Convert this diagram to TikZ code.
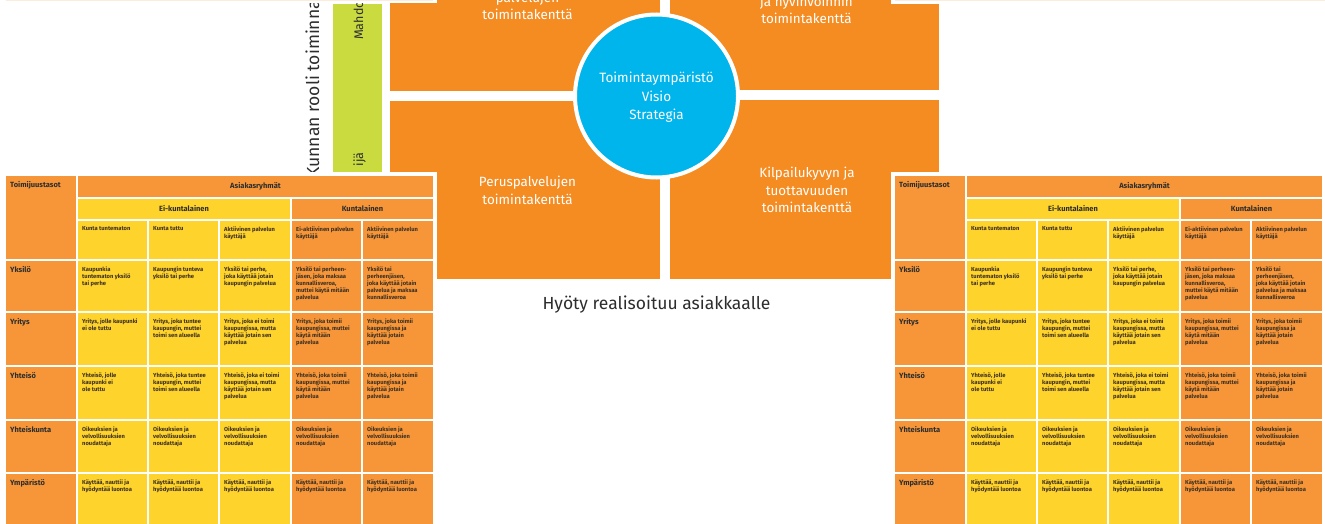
\documentclass[tikz,border=0pt]{standalone}
\usepackage{fontspec}
\setmainfont{Fira Sans}

\definecolor{quadorange}{RGB}{244,140,34}
\definecolor{taborange}{RGB}{246,150,56}
\definecolor{tabyellow}{RGB}{254,211,43}
\definecolor{barlime}{RGB}{202,219,64}
\definecolor{hubblue}{RGB}{0,180,236}
\definecolor{inktext}{RGB}{62,48,34}
\definecolor{greytext}{RGB}{45,45,45}

\tikzset{
  celltext/.style={inner sep=0pt, anchor=north west, align=left, text=inktext,
    font=\bfseries\fontsize{5.8}{7}\selectfont},
  rowlabel/.style={inner sep=0pt, anchor=north west, text=greytext,
    font=\bfseries\fontsize{7.5}{9}\selectfont},
  headtext/.style={inner sep=0pt, text=greytext,
    font=\bfseries\fontsize{7.5}{9}\selectfont},
  fieldtext/.style={text=white, align=center, inner sep=0pt,
    font=\fontsize{13.4}{17.7}\selectfont},
  hubtext/.style={text=white, align=center, inner sep=0pt,
    font=\fontsize{13.5}{18.5}\selectfont},
  sidetext/.style={text=greytext, rotate=90, inner sep=0pt},
}

% table cell: x1 x2 y1 y2 fill style name text (text set at the top left)
\newcommand{\tcell}[8]{%
  \fill[#5] (#1,#3) rectangle (#2,#4);
  \node[#6] (#7) at ({#1+4},{#3+5.5}) {#8};}
% header cell with centred text: x1 x2 y1 y2 fill name text
\newcommand{\hcell}[7]{%
  \fill[#5] (#1,#3) rectangle (#2,#4);
  \node[headtext] (#6) at ({(#1+#2)/2},{(#3+#4)/2}) {#7};}

% customer group table; #1 is the prefix for its node names
\newcommand{\clienttable}[1]{%
  \fill[white] (2,172) rectangle (437,530);
  \tcell{6}{76}{176}{259}{taborange}{rowlabel}{#1-corner}{Toimijuustasot}
  \hcell{78}{433}{176}{197}{taborange}{#1-groups}{Asiakasryhmät}
  \hcell{78}{290}{199}{219}{tabyellow}{#1-outside}{Ei-kuntalainen}
  \hcell{292}{433}{199}{219}{taborange}{#1-resident}{Kuntalainen}
  % column headings
  \tcell{78}{147}{221}{259}{tabyellow}{celltext}{#1-h1}{Kunta tuntematon}
  \tcell{149}{218}{221}{259}{tabyellow}{celltext}{#1-h2}{Kunta tuttu}
  \tcell{220}{290}{221}{259}{tabyellow}{celltext}{#1-h3}{Aktiivinen palvelun\\käyttäjä}
  \tcell{292}{361}{221}{259}{taborange}{celltext}{#1-h4}{Ei-aktiivinen palvelun\\käyttäjä}
  \tcell{363}{433}{221}{259}{taborange}{celltext}{#1-h5}{Aktiivinen palvelun\\käyttäjä}
  % Yksilö
  \tcell{6}{76}{261}{311}{taborange}{rowlabel}{#1-r1}{Yksilö}
  \tcell{78}{147}{261}{311}{tabyellow}{celltext}{#1-r1c1}{Kaupunkia\\tuntematon yksilö\\tai perhe}
  \tcell{149}{218}{261}{311}{tabyellow}{celltext}{#1-r1c2}{Kaupungin tunteva\\yksilö tai perhe}
  \tcell{220}{290}{261}{311}{tabyellow}{celltext}{#1-r1c3}{Yksilö tai perhe,\\joka käyttää jotain\\kaupungin palvelua}
  \tcell{292}{361}{261}{311}{taborange}{celltext}{#1-r1c4}{Yksilö tai perheen-\\jäsen, joka maksaa\\kunnallisveroa,\\muttei käytä mitään\\palvelua}
  \tcell{363}{433}{261}{311}{taborange}{celltext}{#1-r1c5}{Yksilö tai\\perheenjäsen,\\joka käyttää jotain\\palvelua ja maksaa\\kunnallisveroa}
  % Yritys
  \tcell{6}{76}{313}{365}{taborange}{rowlabel}{#1-r2}{Yritys}
  \tcell{78}{147}{313}{365}{tabyellow}{celltext}{#1-r2c1}{Yritys, jolle kaupunki\\ei ole tuttu}
  \tcell{149}{218}{313}{365}{tabyellow}{celltext}{#1-r2c2}{Yritys, joka tuntee\\kaupungin, muttei\\toimi sen alueella}
  \tcell{220}{290}{313}{365}{tabyellow}{celltext}{#1-r2c3}{Yritys, joka ei toimi\\kaupungissa, mutta\\käyttää jotain sen\\palvelua}
  \tcell{292}{361}{313}{365}{taborange}{celltext}{#1-r2c4}{Yritys, joka toimii\\kaupungissa, muttei\\käytä mitään\\palvelua}
  \tcell{363}{433}{313}{365}{taborange}{celltext}{#1-r2c5}{Yritys, joka toimii\\kaupungissa ja\\käyttää jotain\\palvelua}
  % Yhteisö
  \tcell{6}{76}{367}{419}{taborange}{rowlabel}{#1-r3}{Yhteisö}
  \tcell{78}{147}{367}{419}{tabyellow}{celltext}{#1-r3c1}{Yhteisö, jolle\\kaupunki ei\\ole tuttu}
  \tcell{149}{218}{367}{419}{tabyellow}{celltext}{#1-r3c2}{Yhteisö, joka tuntee\\kaupungin, muttei\\toimi sen alueella}
  \tcell{220}{290}{367}{419}{tabyellow}{celltext}{#1-r3c3}{Yhteisö, joka ei toimi\\kaupungissa, mutta\\käyttää jotain sen\\palvelua}
  \tcell{292}{361}{367}{419}{taborange}{celltext}{#1-r3c4}{Yhteisö, joka toimii\\kaupungissa, muttei\\käytä mitään\\palvelua}
  \tcell{363}{433}{367}{419}{taborange}{celltext}{#1-r3c5}{Yhteisö, joka toimii\\kaupungissa ja\\käyttää jotain\\palvelua}
  % Yhteiskunta
  \tcell{6}{76}{421}{472}{taborange}{rowlabel}{#1-r4}{Yhteiskunta}
  \tcell{78}{147}{421}{472}{tabyellow}{celltext}{#1-r4c1}{Oikeuksien ja\\velvollisuuksien\\noudattaja}
  \tcell{149}{218}{421}{472}{tabyellow}{celltext}{#1-r4c2}{Oikeuksien ja\\velvollisuuksien\\noudattaja}
  \tcell{220}{290}{421}{472}{tabyellow}{celltext}{#1-r4c3}{Oikeuksien ja\\velvollisuuksien\\noudattaja}
  \tcell{292}{361}{421}{472}{taborange}{celltext}{#1-r4c4}{Oikeuksien ja\\velvollisuuksien\\noudattaja}
  \tcell{363}{433}{421}{472}{taborange}{celltext}{#1-r4c5}{Oikeuksien ja\\velvollisuuksien\\noudattaja}
  % Ympäristö
  \tcell{6}{76}{474}{530}{taborange}{rowlabel}{#1-r5}{Ympäristö}
  \tcell{78}{147}{474}{530}{tabyellow}{celltext}{#1-r5c1}{Käyttää, nauttii ja\\hyödyntää luontoa}
  \tcell{149}{218}{474}{530}{tabyellow}{celltext}{#1-r5c2}{Käyttää, nauttii ja\\hyödyntää luontoa}
  \tcell{220}{290}{474}{530}{tabyellow}{celltext}{#1-r5c3}{Käyttää, nauttii ja\\hyödyntää luontoa}
  \tcell{292}{361}{474}{530}{taborange}{celltext}{#1-r5c4}{Käyttää, nauttii ja\\hyödyntää luontoa}
  \tcell{363}{433}{474}{530}{taborange}{celltext}{#1-r5c5}{Käyttää, nauttii ja\\hyödyntää luontoa}
}

\begin{document}
\begin{tikzpicture}[x=1pt, y=-1pt]
  \useasboundingbox (0,0) rectangle (1325,524);
  \clip (0,0) rectangle (1325,524);
  \fill[white] (0,0) rectangle (1325,524);

  % side captions
  \node[sidetext, anchor=base west, font=\fontsize{17.5}{17.5}\selectfont] (role) at (319,178) {Kunnan rooli toiminna};
  \fill[barlime] (333,4) rectangle (382,172);
  \node[sidetext, anchor=base west, font=\fontsize{12.5}{12.5}\selectfont] (enabler) at (363,40) {Mahdo};
  \node[sidetext, anchor=base east, font=\fontsize{12.5}{12.5}\selectfont] (barend) at (363,152) {ijä};

  % four action fields
  \fill[quadorange] (390,-5) rectangle (660,91);
  \fill[quadorange] (670,-5) rectangle (939,90);
  \fill[quadorange] (390,101) rectangle (660,279);
  \fill[quadorange] (670,100) rectangle (939,279);

  % hub circle
  \node[circle, fill=hubblue, draw=white, line width=4pt, minimum size=163pt, inner sep=0pt] (hub) at (656.5,96) {};
  \node[hubtext] (hubtxt) at (656.5,97.5) {Toimintaympäristö\\Visio\\Strategia};

  \node[fieldtext] (tlfield) at (527.5,5.8) {palvelujen\\toimintakenttä};
  \node[fieldtext] (trfield) at (806.5,10) {ja hyvinvoinnin\\toimintakenttä};
  \node[fieldtext] (blfield) at (527.5,190.5) {Peruspalvelujen\\toimintakenttä};
  \node[fieldtext] (brfield) at (807,190) {Kilpailukyvyn ja\\tuottavuuden\\toimintakenttä};

  % lower edges of the tables above
  \fill[white] (-5,-5) rectangle (437,3);
  \fill[white] (891,-5) rectangle (1330,4);
  \draw[taborange!18, line width=0.8pt] (6,0.6) -- (433,0.6);
  \draw[taborange!18, line width=0.8pt] (895,0.6) -- (1325,0.6);

  % customer group tables
  \clienttable{L}
  \begin{scope}[xshift=889pt]
    \clienttable{R}
  \end{scope}

  \node[text=greytext, inner sep=0pt, font=\fontsize{17.5}{20}\selectfont] (benefit) at (656.5,305) {Hyöty realisoituu asiakkaalle};
\end{tikzpicture}
\end{document}
